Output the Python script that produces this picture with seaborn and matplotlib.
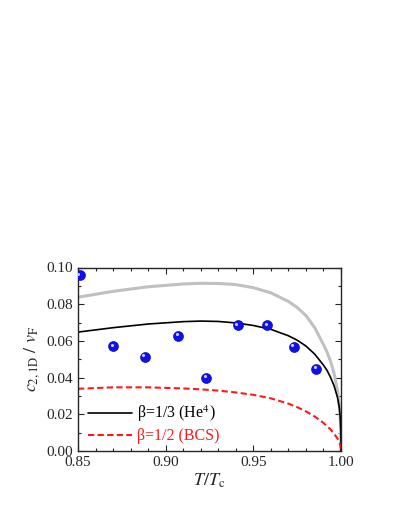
import numpy as np
import pandas as pd
import matplotlib
matplotlib.use("Agg")
import matplotlib.pyplot as plt
import matplotlib.transforms as mtransforms
from matplotlib.ticker import MultipleLocator, FormatStrFormatter
import seaborn as sns

# ---- data ----
t_curve = [0.85, 0.87, 0.89, 0.91, 0.92, 0.93, 0.94, 0.95, 0.96, 0.97,
           0.975, 0.98, 0.985, 0.99, 0.992, 0.994, 0.996, 0.998, 0.999, 0.9995, 0.9999, 1.0]
c_he4 = [0.0648, 0.0672, 0.0692, 0.0705, 0.0708, 0.0706, 0.0698, 0.0684, 0.0663, 0.0628,
         0.0604, 0.0572, 0.0528, 0.0468, 0.0440, 0.0402, 0.0357, 0.0292, 0.0240, 0.0190, 0.0110, 0.0]
c_gray = [0.0838, 0.0870, 0.0895, 0.0910, 0.0914, 0.0913, 0.0907, 0.0890, 0.0862, 0.0815,
          0.0782, 0.0738, 0.0672, 0.0580, 0.0540, 0.0490, 0.0425, 0.0330, 0.0250, 0.0190, 0.0090, 0.0]
c_bcs = [0.0339, 0.0347, 0.0347, 0.0341, 0.0336, 0.0329, 0.0319, 0.0306, 0.0287, 0.0258,
         0.0239, 0.0216, 0.0188, 0.0153, 0.0135, 0.0118, 0.0095, 0.0068, 0.0050, 0.0035, 0.0015, 0.0]

t_points = [0.851, 0.870, 0.888, 0.907, 0.923, 0.941, 0.958, 0.973, 0.986]
c_points = [0.0957, 0.0570, 0.0512, 0.0627, 0.0400, 0.0685, 0.0685, 0.0568, 0.0449]

label_he4 = r'β=1/3 (He$^{4}$)'
label_bcs = 'β=1/2 (BCS)'

curves = pd.DataFrame({"t": t_curve, "he4": c_he4, "gray": c_gray, "bcs": c_bcs})
points = pd.DataFrame({"t": t_points, "c": c_points})

sns.set_style("ticks")
plt.rcParams['font.family'] = ['Liberation Serif', 'DejaVu Serif']
plt.rcParams['mathtext.fontset'] = 'stix'

fig = plt.figure(figsize=(3.99, 5.16), dpi=100)
ax = fig.add_axes([78/399, 1-451/516, (341-78)/399, (451-267.5)/516])

sns.lineplot(data=curves, x="t", y="gray", ax=ax, color="#c0c0c0", lw=2.2, legend=False)
sns.lineplot(data=curves, x="t", y="he4", ax=ax, color="black", lw=1.2, label=label_he4)
sns.lineplot(data=curves, x="t", y="bcs", ax=ax, color="#ff1a1a", lw=1.5, label=label_bcs)
ax.lines[-1].set_dashes((3, 1.6))

sns.scatterplot(data=points, x="t", y="c", ax=ax, s=52, color="#1010ee",
                edgecolor="#0000a0", linewidth=0.4, zorder=5, legend=False)
hl = mtransforms.offset_copy(ax.transData, fig=fig, x=-1.0, y=1.2, units='points')
ax.scatter(t_points, c_points, s=5, color="#c8d0ff", linewidth=0, zorder=6, transform=hl)

ax.set_xlim(0.85, 1.0)
ax.set_ylim(0.0, 0.10)
ax.xaxis.set_major_locator(MultipleLocator(0.05))
ax.xaxis.set_minor_locator(MultipleLocator(0.01))
ax.yaxis.set_major_locator(MultipleLocator(0.02))
ax.yaxis.set_minor_locator(MultipleLocator(0.01))
ax.xaxis.set_major_formatter(FormatStrFormatter('%.2f'))
ax.yaxis.set_major_formatter(FormatStrFormatter('%.2f'))
ax.tick_params(which='both', direction='in', top=True, right=True, labelsize=11, width=0.8)
ax.tick_params(which='major', length=4)
ax.tick_params(which='minor', length=2.5)
for s in ax.spines.values():
    s.set_visible(True)
    s.set_linewidth(1.0)

ax.set_xlabel(r'$T/T_{\mathrm{c}}$', fontsize=13, labelpad=2)
ax.set_ylabel(r'$c_{2,1\mathrm{D}}\ /\ v_{\mathrm{F}}$', fontsize=13, labelpad=3)

leg = ax.legend(loc='lower left', bbox_to_anchor=(0.0, -0.015), frameon=False,
                fontsize=11.5, handlelength=2.8, handletextpad=0.3, labelspacing=0.25,
                borderaxespad=0.2)
leg.get_texts()[0].set_color('black')
leg.get_texts()[1].set_color('#ff1a1a')

fig.savefig("out.png", dpi=100)
